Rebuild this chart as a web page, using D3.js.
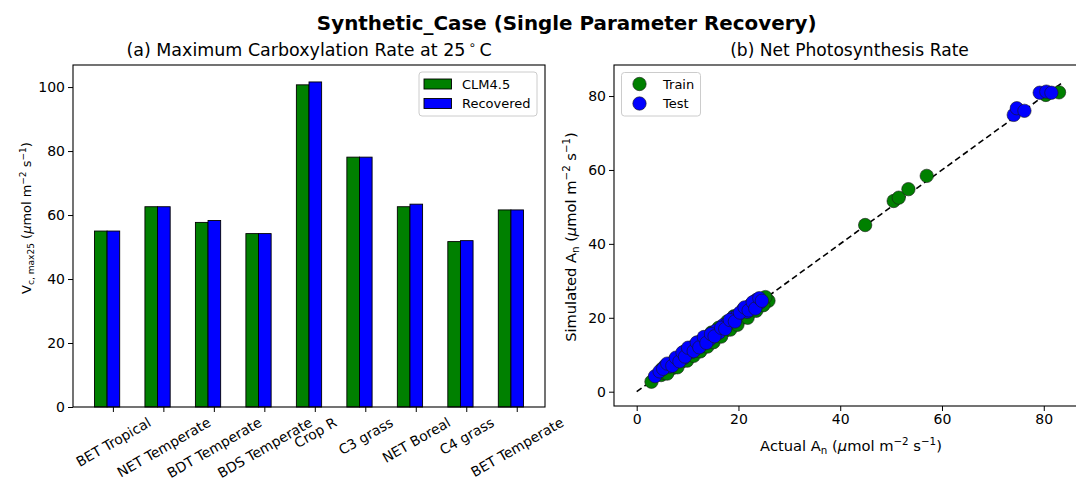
<!DOCTYPE html>
<html><head><meta charset="utf-8">
<script src="https://cdn.jsdelivr.net/npm/d3@7"></script>
<style>
body{margin:0;background:#fff;}
svg{display:block;}
text{font-family:"DejaVu Sans",sans-serif;fill:#000;}
</style></head>
<body><svg id="c" width="1076" height="482"></svg>
<script>
// ---------- DATA ----------
const categories = ["BET Tropical","NET Temperate","BDT Temperate","BDS Temperate","Crop R","C3 grass","NET Boreal","C4 grass","BET Temperate"];
const clmValues = [55.0,62.6,57.7,54.2,100.7,78.1,62.6,51.7,61.6];
const recoveredValues = [55.0,62.6,58.3,54.2,101.6,78.1,63.4,52.0,61.6];
const barSeriesNames = ["CLM4.5","Recovered"];
const barTicks = [0,20,40,60,80,100];

const trainActual =    [2.9,4.8,5.5,6.2,6.8,7.2,7.9,8.3,8.8,9.1,9.6,10.2,10.5,11.0,11.4,11.8,12.3,12.7,13.1,13.6,14.0,14.5,14.9,15.3,15.8,16.4,16.9,17.5,18.2,18.8,19.5,20.1,20.8,21.4,22.0,22.6,23.2,23.9,24.5,25.9,
  5.0,6.0,7.5,8.0,9.3,9.9,10.8,11.2,12.0,12.5,13.3,13.9,14.7,15.1,16.1,16.6,17.8,18.4,19.1,19.8,21.0,21.8,22.9,23.5,24.9,25.3,
  44.9,50.5,51.5,53.4,57.0,80.4,83.0];
const trainSimulated = [2.7,4.5,5.0,5.6,6.9,6.5,7.4,8.9,8.1,9.6,9.0,9.5,10.9,10.4,11.8,11.1,12.6,11.9,13.5,12.8,14.4,13.7,15.3,14.6,16.2,15.6,17.4,16.6,18.6,18.0,19.9,19.4,21.2,20.6,22.5,21.8,23.6,23.0,24.9,24.6,
  6.2,4.9,8.6,6.6,10.8,8.4,12.0,9.7,13.3,10.9,14.6,12.2,16.0,13.4,17.3,14.9,19.0,16.8,20.4,18.1,22.3,20.0,24.1,21.9,23.4,25.6,
  45.1,51.6,52.5,54.8,58.4,80.3,81.0];
const testActual =    [3.6,5.6,6.5,7.3,8.0,8.6,9.2,9.8,10.4,10.9,11.5,12.0,12.6,13.0,13.4,13.9,14.4,15.0,15.6,16.2,17.0,17.8,18.9,19.8,20.9,21.7,22.4,23.0,23.5,23.9,24.3,
  4.5,5.2,6.0,7.0,7.7,8.4,9.0,9.5,10.1,11.2,11.8,12.3,13.2,13.7,14.6,15.3,16.6,17.4,18.3,19.3,20.3,21.2,22.0,22.8,23.3,24.1,24.6,
  74.1,74.7,76.2,79.2,80.5,81.5];
const testSimulated = [4.2,7.0,6.8,8.1,8.6,9.4,9.1,10.4,11.5,10.8,12.2,12.9,12.5,13.9,14.0,14.6,14.2,15.9,16.5,16.0,18.0,18.3,20.0,20.6,22.1,21.6,23.5,23.2,24.8,25.0,24.2,
  5.5,6.2,7.6,7.0,9.2,8.2,10.6,9.5,11.9,11.0,13.3,12.0,14.8,13.2,15.6,15.0,17.3,17.0,19.4,19.0,21.4,22.8,22.0,24.2,22.5,25.3,24.6,
  74.9,76.7,76.0,80.9,81.2,80.9];
const scatterSeriesNames = ["Train","Test"];
const scatterTicks = [0,20,40,60,80];
const oneToOne = [0, 83.5];

// ---------- DRAW ----------
const svg = d3.select("#c");
svg.append("rect").attr("width",1076).attr("height",482).attr("fill","#fff");
const FONT = 14;

function rich(sel, parts, fs){
  sel.selectAll("tspan").remove();
  sel.attr("font-size", fs);
  let shift = 0;
  parts.forEach(([t, m]) => {
    const ts = sel.append("tspan").text(t);
    let target = 0;
    if (m === "sub") { target = fs*0.22; ts.attr("font-size", fs*0.7); }
    else if (m === "sup") { target = -fs*0.38; ts.attr("font-size", fs*0.7); }
    else if (m === "it") { ts.attr("font-style","italic"); }
    else if (m === "deg") { target = -fs*0.38; ts.attr("font-size", fs*0.7).attr("dx", fs*0.18); }
    else if (m === "aft") { ts.attr("dx", fs*0.18); }
    ts.attr("dy", target - shift);
    shift = target;
  });
}
// render rich text and scale its font so total advance equals target width
function richFit(sel, parts, fs, target){
  rich(sel, parts, fs);
  const w = sel.node().getComputedTextLength();
  rich(sel, parts, fs*target/w);
}
function fitPlain(sel, target){
  const fs = +sel.attr("font-size");
  const w = sel.node().getComputedTextLength();
  sel.attr("font-size", fs*target/w);
}

// ===== Main title =====
const mt = svg.append("text").attr("x",566.7).attr("y",30).attr("text-anchor","middle")
  .attr("font-size",20).attr("font-weight","bold").text("Synthetic_Case (Single Parameter Recovery)");
fitPlain(mt, 500);

// ===== Panel (a) =====
const aL=73,aR=545,aT=65,aB=407;
const xa = d3.scaleLinear().domain([-0.8,8.55]).range([aL,aR]);
const ya = d3.scaleLinear().domain([0,106.9]).range([aB,aT]);
const ga = svg.append("g");
const bw = 0.25;
ga.selectAll("rect.clm").data(clmValues).join("rect")
  .attr("x",(d,i)=>xa(i-0.375)).attr("width",xa(bw)-xa(0))
  .attr("y",d=>ya(d)).attr("height",d=>ya(0)-ya(d))
  .attr("fill","#008000").attr("stroke","#000").attr("stroke-width",0.9);
ga.selectAll("rect.rec").data(recoveredValues).join("rect")
  .attr("x",(d,i)=>xa(i-0.125)).attr("width",xa(bw)-xa(0))
  .attr("y",d=>ya(d)).attr("height",d=>ya(0)-ya(d))
  .attr("fill","#0000ff").attr("stroke","#000").attr("stroke-width",0.9);

ga.append("rect").attr("x",aL).attr("y",aT).attr("width",aR-aL).attr("height",aB-aT)
  .attr("fill","none").attr("stroke","#000").attr("stroke-width",1.1);
const yaxA = ga.append("g").attr("transform",`translate(${aL},0)`)
  .call(d3.axisLeft(ya).tickValues(barTicks).tickSize(5).tickPadding(3).tickFormat(d3.format("d")));
yaxA.select(".domain").remove();
yaxA.selectAll("text").attr("font-size",FONT).attr("font-family","DejaVu Sans");
categories.forEach((c,i)=>{
  ga.append("line").attr("x1",xa(i)).attr("x2",xa(i)).attr("y1",aB).attr("y2",aB+5).attr("stroke","#000");
});
categories.forEach((c,i)=>{
  const t = ga.append("text").attr("font-size",13.8).attr("text-anchor","middle")
    .attr("dominant-baseline","central").text(c);
  const w = t.node().getComputedTextLength();
  const h = w*Math.sin(Math.PI/6) + 13.8*1.0*Math.cos(Math.PI/6);
  const cx = xa(i), cy = aB + 8 + h/2;
  t.attr("x",cx).attr("y",cy).attr("transform",`rotate(-30,${cx},${cy})`);
});
const unitParts = [[" (",""],["μ","it"],["mol m",""],["−2","sup"],[" s",""],["−1","sup"],[")",""]];
const ylA = ga.append("text").attr("text-anchor","middle")
  .attr("transform",`translate(31,218) rotate(-90)`);
richFit(ylA, [["V",""],["c, max25","sub"]].concat(unitParts), FONT, 152);
const tA = ga.append("text").attr("x",(aL+aR)/2).attr("y",56).attr("text-anchor","middle");
richFit(tA, [["(a) Maximum Carboxylation Rate at 25",""],["∘","deg"],["C","aft"]], 16.5, 359);
const lgA = ga.append("g");
lgA.append("rect").attr("x",419).attr("y",72).attr("width",118).attr("height",44).attr("rx",3)
  .attr("fill","#fff").attr("fill-opacity",0.8).attr("stroke","#ccc");
[["#008000",79],["#0000ff",98.5]].forEach(([col,y],k)=>{
  lgA.append("rect").attr("x",424).attr("y",y).attr("width",27.5).attr("height",10)
    .attr("fill",col).attr("stroke","#000").attr("stroke-width",0.9);
  lgA.append("text").attr("x",462).attr("y",y+9.5).attr("font-size",13).text(barSeriesNames[k]);
});

// ===== Panel (b) =====
const bL=614,bR=1086,bT=65,bB=406;
const xb = d3.scaleLinear().domain([-4.46,88.3]).range([bL,bR]);
const yb = d3.scaleLinear().domain([-3.87,88.4]).range([bB,bT]);
const gb = svg.append("g");
gb.append("line").attr("x1",xb(oneToOne[0])).attr("y1",yb(oneToOne[0]))
  .attr("x2",xb(oneToOne[1])).attr("y2",yb(oneToOne[1]))
  .attr("stroke","#000").attr("stroke-width",1.6).attr("stroke-dasharray","6,3.6");
const R = 6.7;
gb.selectAll("circle.tr").data(trainActual).join("circle")
  .attr("cx",d=>xb(d)).attr("cy",(d,i)=>yb(trainSimulated[i])).attr("r",R)
  .attr("fill","#008000").attr("stroke","#1a1a1a").attr("stroke-width",0.6);
gb.selectAll("circle.te").data(testActual).join("circle")
  .attr("cx",d=>xb(d)).attr("cy",(d,i)=>yb(testSimulated[i])).attr("r",R)
  .attr("fill","#0000ff").attr("stroke","#1a1a1a").attr("stroke-width",0.6);
gb.append("rect").attr("x",bL).attr("y",bT).attr("width",bR-bL).attr("height",bB-bT)
  .attr("fill","none").attr("stroke","#000").attr("stroke-width",1.1);
const yaxB = gb.append("g").attr("transform",`translate(${bL},0)`)
  .call(d3.axisLeft(yb).tickValues(scatterTicks).tickSize(5).tickPadding(3).tickFormat(d3.format("d")));
yaxB.select(".domain").remove();
yaxB.selectAll("text").attr("font-size",FONT).attr("font-family","DejaVu Sans");
const xaxB = gb.append("g").attr("transform",`translate(0,${bB})`)
  .call(d3.axisBottom(xb).tickValues(scatterTicks).tickSize(5).tickPadding(3).tickFormat(d3.format("d")));
xaxB.select(".domain").remove();
xaxB.selectAll("text").attr("font-size",FONT).attr("font-family","DejaVu Sans");
const xlB = gb.append("text").attr("x",851).attr("y",451).attr("text-anchor","middle");
richFit(xlB, [["Actual A",""],["n","sub"]].concat(unitParts), FONT, 182);
const ylB = gb.append("text").attr("text-anchor","middle")
  .attr("transform",`translate(576,237) rotate(-90)`);
richFit(ylB, [["Simulated A",""],["n","sub"]].concat(unitParts), FONT, 210);
const tB = gb.append("text").attr("x",849.5).attr("y",56).attr("text-anchor","middle").attr("font-size",16.5)
  .text("(b) Net Photosynthesis Rate");
fitPlain(tB, 239);
const lgB = gb.append("g");
lgB.append("rect").attr("x",621.5).attr("y",72.5).attr("width",79).attr("height",43.5).attr("rx",3)
  .attr("fill","#fff").attr("fill-opacity",0.8).attr("stroke","#ccc");
[["#008000",84],["#0000ff",103.5]].forEach(([col,y],k)=>{
  lgB.append("circle").attr("cx",639.5).attr("cy",y).attr("r",R)
    .attr("fill",col).attr("stroke","#1a1a1a").attr("stroke-width",0.6);
  lgB.append("text").attr("x",663).attr("y",y+4.7).attr("font-size",13).text(scatterSeriesNames[k]);
});
</script></body></html>
